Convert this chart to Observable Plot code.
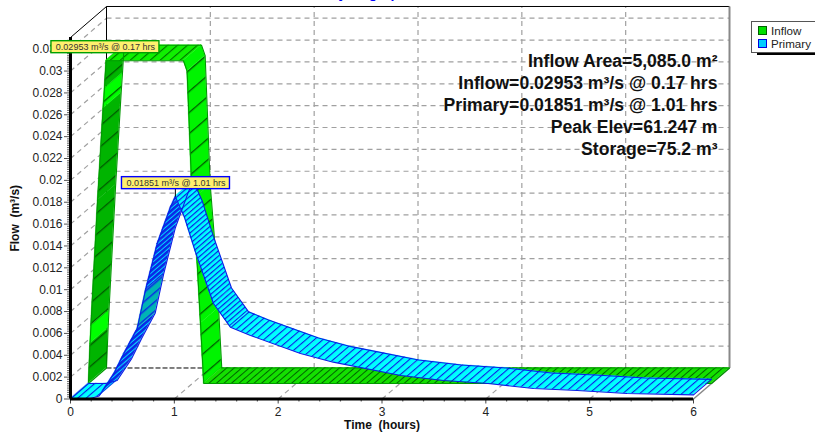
<!DOCTYPE html>
<html>
<head>
<meta charset="utf-8">
<script src="https://cdn.jsdelivr.net/npm/d3@7"></script>
<script src="https://cdn.jsdelivr.net/npm/@observablehq/plot@0.6"></script>
<style>
html,body{margin:0;padding:0;background:#fff;overflow:hidden}
#wrap{position:relative;width:815px;height:440px;overflow:hidden;font-family:"Liberation Sans",Arial,sans-serif}
#legend{position:absolute;left:751px;top:21px;width:70px;height:30px;background:#fff;border:1px solid #555;box-shadow:6px 2px 0 #000;font-size:11.6px;color:#222}
#legend div{position:absolute;left:19px;white-space:nowrap;line-height:13px}
#legend i{position:absolute;left:-13px;top:2px;width:7px;height:7px;border:1px solid}
</style>
</head>
<body>
<div id="wrap"></div>
<script>
const title = "Hydrograph";
const xLabel = "Time  (hours)";
const yLabel = "Flow  (m³/s)";
const seriesNames = ["Inflow", "Primary"];
const statLines = [
  "Inflow Area=5,085.0 m²",
  "Inflow=0.02953 m³/s @ 0.17 hrs",
  "Primary=0.01851 m³/s @ 1.01 hrs",
  "Peak Elev=61.247 m",
  "Storage=75.2 m³"
];
const xTicks = [0, 1, 2, 3, 4, 5, 6];
const xMinor = [0.2,0.4,0.6,0.8,1.2,1.4,1.6,1.8,2.2,2.4,2.6,2.8,3.2,3.4,3.6,3.8,4.2,4.4,4.6,4.8,5.2,5.4,5.6,5.8];
const yTicks = [0,0.002,0.004,0.006,0.008,0.01,0.012,0.014,0.016,0.018,0.02,0.022,0.024,0.026,0.028,0.03,0.032];
const yMinor = d3.range(0, 165).map(i => i * 0.0002).filter(v => Math.round(v * 5000) % 10 !== 0);

const inflowTimes  = [0, 0.0155, 0.024, 0.088, 0.141, 0.154, 0.17, 0.915, 0.95, 0.999, 1.047, 1.079, 1.11, 6];
const inflowValues = [0, 0.00366, 0.0053, 0.01674, 0.02516, 0.02699, 0.02953, 0.02953, 0.02857, 0.01674, 0.01098, 0.0055, 0, 0];
const inflowKinds  = ["gDark","gBright","gDark","gDark","gBright","gDark","gTop","gFall","gFall","gFall","gFall","gFall","gFlat"];

const primaryTimes  = [0, 0.17, 0.276, 0.417, 0.513, 0.642, 0.722, 0.835, 0.963, 1.01, 1.095, 1.204, 1.377, 1.54, 1.734, 2.215, 2.53, 3.18, 3.59, 4.02, 4.46, 4.88, 5.36, 6];
const primaryValues = [0, 0, 0.00027, 0.0023, 0.00414, 0.00642, 0.00993, 0.0142, 0.01755, 0.01851, 0.0167, 0.01343, 0.00874, 0.00657, 0.00581, 0.00416, 0.00337, 0.00215, 0.00169, 0.00142, 0.00096, 0.00078, 0.0005, 0.00038];
const primaryKinds  = ["bFlat","bFlat","bRise","bRise","bRise","bTeal","bRise","bRise","bRise","bFall","bFall","bFall","bFall","bFall2","bFlat","bFlat","bFlat","bFlat","bFlat","bFlat","bFlat","bFlat","bFlat"];

const peaks = [
  {text:"0.02953 m³/s @ 0.17 hrs", t:0.17, v:0.02953, ox:17.3, oy:-29, line:"#00a000"},
  {text:"0.01851 m³/s @ 1.01 hrs", t:1.01, v:0.01851, ox:0.6, oy:-13.5, line:"#0000ff"}
];

// oblique depth, expressed in data units of the two scales
const DX = 0.1734, DY = 0.001418;
const pxX = n => n / 103.83, pxY = n => n / 10930;
const rowsOf = (ts, vs) => ts.map((t, i) => ({t, v: vs[i]}));
const inflow = rowsOf(inflowTimes, inflowValues);
const primary = rowsOf(primaryTimes, primaryValues);

function ribbon(rows, kinds, d0, d1, edge) {
  const a = {x: d => d.t + DX * d0, y: d => d.v + DY * d0};
  const b = {x: d => d.t + DX * d1, y: d => d.v + DY * d1};
  const marks = kinds.map((k, i) => Plot.area(rows.slice(i, i + 2), {
    x1: a.x, y1: a.y, x2: b.x, y2: b.y,
    fill: `url(#${k})`, stroke: `url(#${k})`, strokeWidth: 0.4
  }));
  marks.push(Plot.line(rows, {x: a.x, y: a.y, stroke: edge, strokeWidth: 1.1}));
  marks.push(Plot.line(rows, {x: b.x, y: b.y, stroke: edge, strokeWidth: 1.1}));
  marks.push(Plot.link([rows[0], rows[rows.length - 1]], {x1: a.x, y1: a.y, x2: b.x, y2: b.y, stroke: edge, strokeWidth: 1.1}));
  return marks;
}

const yTop = 0.03307, xEnd = 6;
const dash = {stroke: "#a0a0a0", strokeWidth: 1.2, strokeDasharray: "5,4"};
const back = {x: 2 * DX, y: 2 * DY};

const plot = Plot.plot({
  width: 815, height: 440,
  marginTop: 37, marginBottom: 41.5, marginLeft: 70, marginRight: 122,
  style: {fontFamily: '"Liberation Sans",Arial,sans-serif', fontSize: "12px", background: "#fff", color: "#222", overflow: "visible"},
  x: {domain: [0, 6], label: null},
  y: {domain: [0, yTop], label: null},
  marks: [
    // back wall grid
    Plot.link(yTicks.slice(1), {x1: back.x, x2: xEnd + back.x, y1: d => d + back.y, y2: d => d + back.y, ...dash}),
    Plot.link(xTicks.slice(1, -1), {x1: d => d + back.x, x2: d => d + back.x, y1: back.y, y2: yTop + back.y, ...dash}),
    // side wall and floor
    Plot.link(yTicks.slice(1), {x1: 0, x2: back.x, y1: d => d, y2: d => d + back.y, ...dash}),
    Plot.link(xTicks.slice(1, -1), {x1: d => d, x2: d => d + back.x, y1: 0, y2: back.y, ...dash}),
    Plot.link([0], {x1: back.x, x2: xEnd + back.x, y1: back.y, y2: back.y, stroke: "#000", strokeWidth: 1, strokeDasharray: "5,2"}),
    // box frame
    Plot.link([0], {x1: back.x, x2: back.x, y1: back.y, y2: yTop + back.y, stroke: "#000", strokeWidth: 1}),
    Plot.link([0], {x1: back.x, x2: xEnd + back.x, y1: yTop + back.y, y2: yTop + back.y, stroke: "#000", strokeWidth: 1}),
    Plot.link([0], {x1: 0, x2: back.x, y1: yTop, y2: yTop + back.y, stroke: "#000", strokeWidth: 1}),
    Plot.link([0], {x1: xEnd + back.x, x2: xEnd + back.x, y1: back.y, y2: yTop + back.y, stroke: "#888", strokeWidth: 2}),
    Plot.link([0], {x1: xEnd, x2: xEnd + back.x, y1: 0, y2: back.y, stroke: "#888", strokeWidth: 1.5}),
    // ribbons
    ...ribbon(inflow, inflowKinds, 1, 2, "#009a00"),
    ...ribbon(primary, primaryKinds, 0, 1, "#0a1ee6"),
    // axes
    Plot.axisX({ticks: xMinor, tickSize: 3, tickFormat: () => "", label: null, stroke: "#666", strokeWidth: 1.2}),
    Plot.axisX({ticks: xTicks, tickSize: 5, tickPadding: 3, label: null, stroke: "#444", tickFormat: d => String(d)}),
    Plot.axisY({ticks: yMinor, tickSize: 3, tickFormat: () => "", label: null, stroke: "#777", strokeWidth: 1.2}),
    Plot.axisY({ticks: yTicks, tickSize: 6, tickPadding: 2, label: null, stroke: "#555", tickFormat: d => String(d)}),
    Plot.ruleX([0], {y1: 0, y2: yTop, stroke: "#000", strokeWidth: 3}),
    Plot.ruleY([0], {x1: 0, x2: xEnd, stroke: "#000", strokeWidth: 3}),
    // stats block
    Plot.text([statLines.join("\n")], {frameAnchor: "top-right", dx: 24, dy: 14, fontSize: 17.6, fontWeight: "bold", fill: "#111", lineHeight: 1.25, textAnchor: "end"}),
    // peak labels
    Plot.link([peaks[1]], {x1: d => d.t, x2: d => d.t, y1: d => d.v, y2: d => d.v + pxY(8), stroke: "#000", strokeWidth: 1}),
    Plot.rect(peaks, {x1: d => d.t + pxX(d.ox - 54), x2: d => d.t + pxX(d.ox + 54), y1: d => d.v - pxY(d.oy - 6), y2: d => d.v - pxY(d.oy + 6), fill: "#fff06e", stroke: d => d.line, strokeWidth: 1.4}),
    Plot.text(peaks, {x: d => d.t + pxX(d.ox), y: d => d.v - pxY(d.oy), text: "text", fontSize: 9, fill: "#333"}),
    // axis titles and clipped title
    Plot.text([xLabel], {frameAnchor: "bottom", dx: 0, dy: 30, fontSize: 12, fontWeight: "bold", fill: "#111"}),
    Plot.text([yLabel], {frameAnchor: "left", rotate: -90, textAnchor: "middle", dx: -55, dy: 0, fontSize: 12, fontWeight: "bold", fill: "#111"}),
    Plot.text([title], {frameAnchor: "top", dx: -14, dy: -49, fontSize: 14, fontWeight: "bold", fill: "#0000ff"})
  ]
});

function pat(id, bg, line, perp, lw) {
  return `<pattern id="${id}" patternUnits="userSpaceOnUse" width="40" height="${perp}" patternTransform="rotate(-40.7)"><rect width="40" height="${perp}" fill="${bg}"/><rect width="40" height="${lw}" fill="${line}"/></pattern>`;
}
plot.insertAdjacentHTML("afterbegin", "<defs>" + [
  pat("gDark", "#00b400", "#005a00", 16, 1.3),
  pat("gBright", "#00ff00", "#005a00", 16, 1.3),
  pat("gTop", "#10f000", "#007000", 6.5, 1.1),
  pat("gFall", "#00f400", "#005a00", 16, 1.3),
  pat("gFlat", "#14e000", "#006400", 4.9, 1),
  pat("bFlat", "#00ffff", "#0a1ee6", 5.5, 1.1),
  pat("bFall", "#00ffff", "#0a1ee6", 4, 1.2),
  pat("bFall2", "#00ffff", "#0a1ee6", 4.8, 1.1),
  pat("bRise", "#00d8ff", "#0a28e6", 3.6, 2.6),
  pat("bTeal", "#00b4b4", "#0a28e6", 7, 1.4)
].join("") + "</defs>");

const wrap = document.getElementById("wrap");
wrap.appendChild(plot);
const legend = document.createElement("div");
legend.id = "legend";
const swatch = [["#00e000", "#006000"], ["#00ccff", "#0000e0"]];
seriesNames.forEach((name, i) => {
  const row = document.createElement("div");
  row.style.top = (i === 0 ? 2 : 15) + "px";
  row.textContent = name;
  const sw = document.createElement("i");
  sw.style.background = swatch[i][0];
  sw.style.borderColor = swatch[i][1];
  row.appendChild(sw);
  legend.appendChild(row);
});
wrap.appendChild(legend);
</script>
</body>
</html>
